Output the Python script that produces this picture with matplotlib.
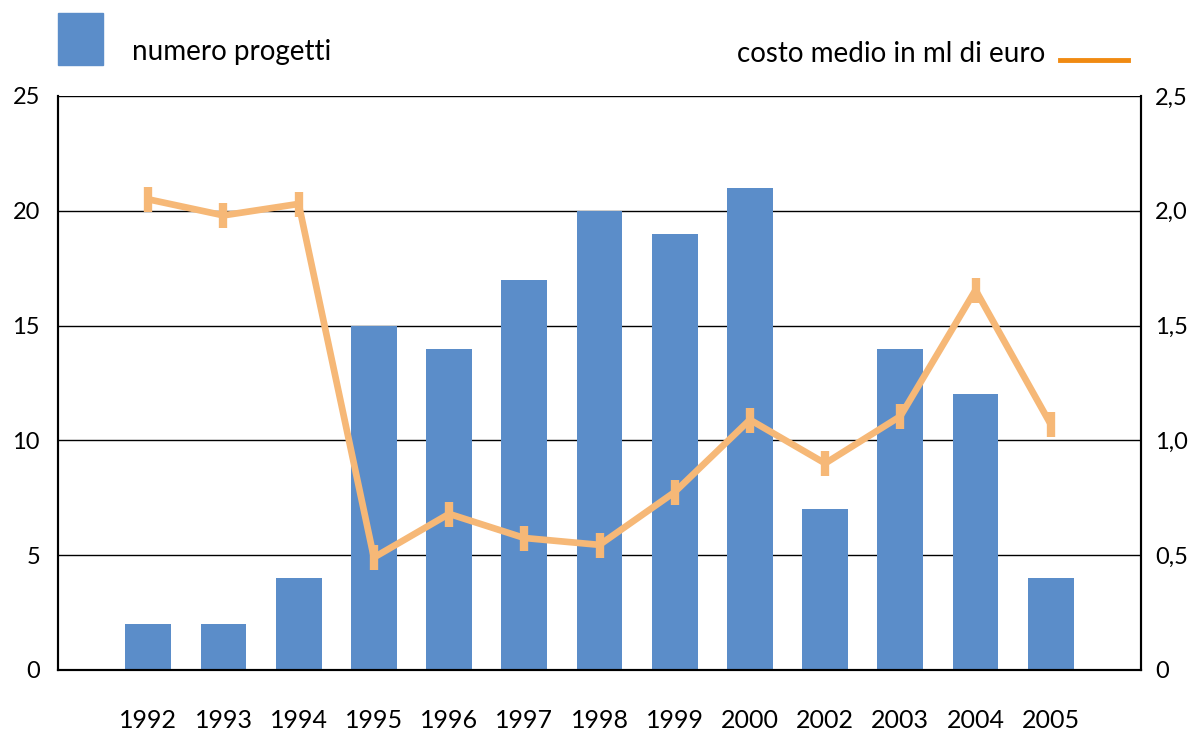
import numpy as np
import matplotlib
matplotlib.use("Agg")
import matplotlib.pyplot as plt
from matplotlib.patches import Rectangle
from matplotlib.lines import Line2D

plt.rcParams['font.family'] = ['Lato', 'DejaVu Sans']

anni = ['1992', '1993', '1994', '1995', '1996', '1997', '1998',
        '1999', '2000', '2002', '2003', '2004', '2005']
numero_progetti = [2, 2, 4, 15, 14, 17, 20, 19, 21, 7, 14, 12, 4]
costo_medio = [2.05, 1.98, 2.03, 0.49, 0.68, 0.575, 0.545,
               0.775, 1.09, 0.90, 1.105, 1.655, 1.07]

left_ticks = [0, 5, 10, 15, 20, 25]
right_ticks = [0, 0.5, 1.0, 1.5, 2.0, 2.5]
right_labels = ['0', '0,5', '1,0', '1,5', '2,0', '2,5']

blu = '#5B8DC9'
arancio_chiaro = '#F6B877'
arancio = '#F08A12'

fig = plt.figure(figsize=(11.93, 7.31), dpi=100)
ax = fig.add_axes([58 / 1193, 1 - 670 / 731, (1141 - 58) / 1193, (670 - 96) / 731])

x = np.arange(len(anni))
ax.bar(x, numero_progetti, width=0.61, color=blu, zorder=2)
ax.set_xlim(-1.2, len(anni) - 1 + 1.2)
ax.set_ylim(0, 25)
ax.set_yticks(left_ticks)
ax.set_yticklabels([str(t) for t in left_ticks], fontsize=17)
ax.set_xticks(x)
ax.set_xticklabels(anni, fontsize=18)
ax.tick_params(axis='x', length=0, pad=28)
ax.tick_params(axis='y', length=0, pad=13)
for t in left_ticks[1:]:
    ax.axhline(t, color='black', lw=1.0, zorder=1)
for s in ['left', 'right', 'bottom']:
    ax.spines[s].set_linewidth(1.5)
ax.spines['top'].set_visible(False)

ax2 = ax.twinx()
ax2.plot(x, costo_medio, color=arancio_chiaro, lw=4.8, marker='|',
         markersize=18, markeredgewidth=6, solid_capstyle='round',
         zorder=3)
ax2.set_ylim(0, 2.5)
ax2.set_yticks(right_ticks)
ax2.set_yticklabels(right_labels, fontsize=17)
ax2.tick_params(axis='y', length=0, pad=10)
for s in ['left', 'right', 'bottom']:
    ax2.spines[s].set_linewidth(1.5)
ax2.spines['top'].set_visible(False)

# legenda in alto
fig.patches.append(Rectangle((58 / 1193, 1 - 65 / 731), 45 / 1193, 52 / 731,
                             transform=fig.transFigure, color=blu))
fig.text(132 / 1193, 1 - 52 / 731, 'numero progetti', fontsize=20,
         va='center', ha='left')
fig.text(1045 / 1193, 1 - 54 / 731, 'costo medio in ml di euro', fontsize=20,
         va='center', ha='right')
fig.lines.append(Line2D([1060 / 1193, 1128 / 1193], [1 - 60 / 731, 1 - 60 / 731],
                        transform=fig.transFigure, color=arancio, lw=3.5))

fig.savefig('out.png', dpi=100)
